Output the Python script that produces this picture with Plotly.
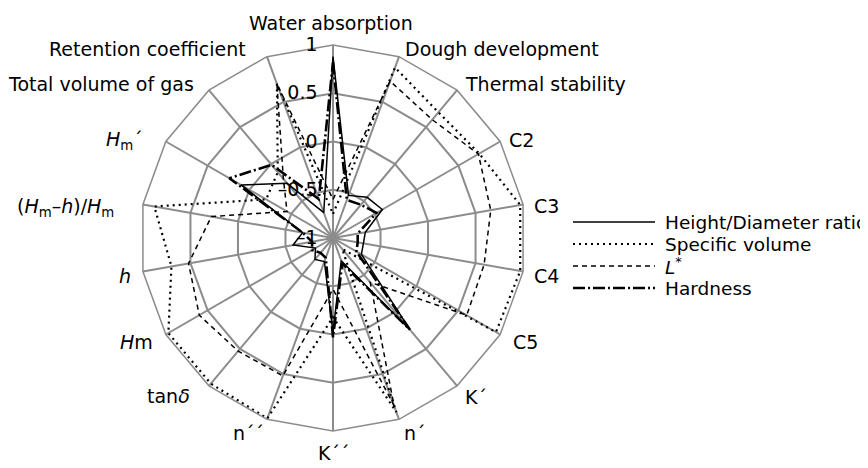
import plotly.graph_objects as go

categories = ["Water absorption", "Dough development", "Thermal stability", "C2", "C3", "C4", "C5",
              "K´", "n´", "K´´", "n´´", "tanδ", "Hm", "h", "(Hm–h)/Hm", "Hm´",
              "Total volume of gas", "Retention coefficient"]
category_labels = ["Water absorption", "Dough development", "Thermal stability", "C2", "C3", "C4", "C5",
                   "K´", "n´", "K´´", "n´´", "tan<i>δ</i>", "<i>H</i>m", "<i>h</i>",
                   "(<i>H</i><sub>m</sub>–<i>h</i>)/<i>H</i><sub>m</sub>", "<i>H</i><sub>m</sub>´",
                   "Total volume of gas", "Retention coefficient"]

height_diameter = [0.88, -0.53, -0.45, -0.41, -0.66, -0.68, -0.66, 0.24, -0.75, -0.02,
                   -0.74, -0.71, -0.79, -0.58, -0.68, 0.10, -0.26, -0.72]
specific_volume = [-0.75, 0.88, 0.70, 0.75, 0.97, 0.97, 0.95, -0.85, 0.92, -0.18,
                   0.99, 0.97, 0.97, 0.70, 0.88, -0.20, -0.11, 0.70]
l_star = [-0.60, 0.73, 0.60, 0.74, 0.66, 0.59, 0.60, -0.40, 0.85, -0.47,
          0.52, 0.53, 0.60, 0.52, 0.28, -0.45, -0.20, 0.70]
hardness = [0.82, -0.58, -0.55, -0.48, -0.74, -0.74, -0.72, 0.24, -0.72, 0.03,
            -0.78, -0.80, -0.75, -0.78, -0.68, 0.24, -0.01, -0.57]

series_names = ["Height/Diameter ratio", "Specific volume", "<i>L</i><sup>*</sup>", "Hardness"]
series_values = [height_diameter, specific_volume, l_star, hardness]

radial_ticks = [-1, -0.5, 0, 0.5, 1]
radial_tick_labels = ["–1", "–0.5", "0", "0.5", "1"]

# ---- styles / layout -------------------------------------------------------
series_dash = ["solid", "2px,4px", "5px,4px", "12px,3px,2px,3px"]
series_width = [1.5, 2.2, 1.5, 2.6]

FONT = "DejaVu Sans, Liberation Sans, sans-serif"
FS = 19
LEG_FS = 18.5
OFF = 8                      # default page body margin in the browser
W, H = 868 - OFF, 468 - OFF
cx, cy, R = 333 - OFF, 238 - OFF, 193
GRID = "#8c8c8c"
TICK_GAP = "\u00a0\u00a0"    # keeps radial tick labels a little left of the axis

# category label placement (page pixels: x, y, horizontal anchor), Excel-like
label_place = [(331, 23, "center"), (403, 49, "left"), (463, 84, "left"), (507, 140, "left"),
               (532, 206, "left"), (532, 276, "left"), (511, 342, "left"), (463, 397, "left"),
               (402, 433, "left"), (333, 453, "center"), (266, 433, "right"), (192, 396, "right"),
               (155, 342, "right"), (133, 276, "right"), (116, 208, "right"), (145, 140, "right"),
               (196, 84, "right"), (248, 49, "right")]

fig = go.Figure()
for name, vals, dash, w in zip(series_names, series_values, series_dash, series_width):
    fig.add_trace(go.Scatterpolar(
        r=vals + vals[:1], theta=categories + categories[:1], mode="lines",
        line=dict(color="black", width=w, dash=dash), name=name, showlegend=False))

fig.update_layout(
    width=W, height=H, margin=dict(l=0, r=0, t=0, b=0),
    paper_bgcolor="white", plot_bgcolor="white",
    font=dict(family=FONT, size=FS, color="black"),
    polar=dict(
        domain=dict(x=[(cx - R) / W, (cx + R) / W], y=[(H - cy - R) / H, (H - cy + R) / H]),
        bgcolor="white", gridshape="linear",
        angularaxis=dict(rotation=90, direction="clockwise", type="category",
                         categoryarray=categories, showticklabels=False,
                         showline=True, linecolor=GRID, linewidth=1.5,
                         gridcolor=GRID, gridwidth=1.5, ticks=""),
        radialaxis=dict(range=[-1, 1], tickvals=radial_ticks,
                        ticktext=[t + TICK_GAP for t in radial_tick_labels],
                        angle=90, side="counterclockwise",
                        tickangle=90, showline=False, ticks="",
                        gridcolor=GRID, gridwidth=1.5,
                        tickfont=dict(size=19, family=FONT, color="black")),
    ),
)

# category labels
for text, (px, py, anchor) in zip(category_labels, label_place):
    fig.add_annotation(xref="paper", yref="paper", x=(px - OFF) / W, y=1 - (py - OFF) / H,
                       text=text, showarrow=False, xanchor=anchor, yanchor="middle",
                       font=dict(size=FS, family=FONT, color="black"))

# custom legend (long line samples as in the reference)
leg_y = [222, 244, 266, 288]
for name, dash, w, y in zip(series_names, series_dash, series_width, leg_y):
    fig.add_shape(type="line", xref="paper", yref="paper",
                  x0=(573 - OFF) / W, x1=(655 - OFF) / W,
                  y0=1 - (y - OFF) / H, y1=1 - (y - OFF) / H,
                  line=dict(color="black", width=w, dash=dash))
    fig.add_annotation(xref="paper", yref="paper", x=(663 - OFF) / W, y=1 - (y - OFF) / H,
                       text=name, showarrow=False, xanchor="left", yanchor="middle",
                       font=dict(size=LEG_FS, family=FONT, color="black"))

fig.write_html("out.html")
